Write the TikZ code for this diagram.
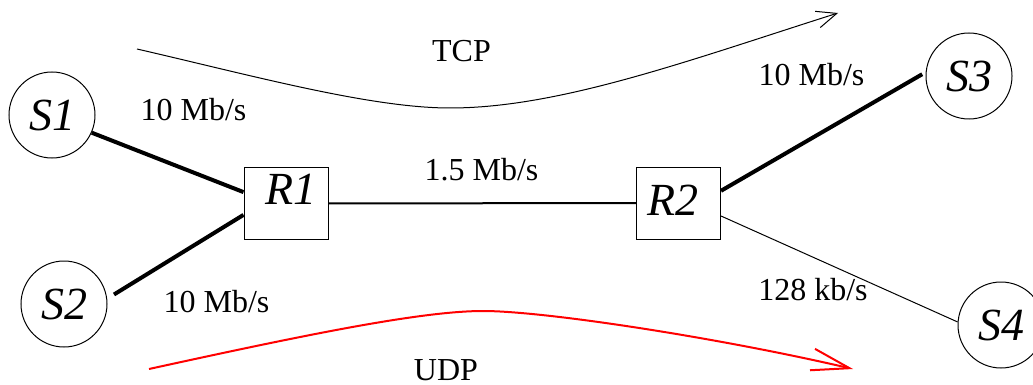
\documentclass[tikz,border=0pt]{standalone}
\usepackage{fontspec}
\setmainfont{Liberation Serif}
\usetikzlibrary{arrows.meta}
\begin{document}
\begin{tikzpicture}[x=1pt,y=-1pt,
  host/.style={circle,draw,line width=1pt,minimum size=86pt,inner sep=0pt,
    font=\fontsize{46}{50}\selectfont\itshape},
  router/.style={rectangle,draw,line width=1pt,minimum width=84pt,
    minimum height=72pt,inner sep=0pt},
  rlabel/.style={anchor=base,inner sep=0pt,font=\fontsize{46}{50}\selectfont\itshape},
  rate/.style={anchor=base,inner sep=0pt,font=\fontsize{32}{36}\selectfont},
  fast/.style={line width=4pt},
  core/.style={line width=2pt},
  slow/.style={line width=1pt},
  tcpflow/.style={line width=1pt,-{Straight Barb[length=20pt,width=17pt]}},
  udpflow/.style={red,line width=2pt,-{Straight Barb[length=38pt,width=22pt]}},
]
\useasboundingbox (0,0) rectangle (1033,385);

% hosts
\node[host] (S1) at (52,115)   {S1};
\node[host] (S2) at (64,304)   {S2};
\node[host] (S3) at (969,76)   {S3};
\node[host] (S4) at (1001,325) {S4};

% routers
\node[router] (R1) at (286,203.5) {};
\node[router] (R2) at (678.5,203) {};
\node[rlabel] (R1t) at (291,204) {R1};
\node[rlabel] (R2t) at (673,215) {R2};

% links
\draw[fast] (S1.-24) -- (R1.165);
\draw[fast,shorten <=8pt] (S2.7) -- (R1.195);
\draw[core] (R1.east) -- (R2.west);
\draw[fast,shorten >=4pt] (R2.16) -- (S3.175);
\draw[slow] (R2.-17) -- (S4.176);

% link rates
\node[rate] (r1) at (193.5,121) {10 Mb/s};
\node[rate] (r2) at (216.5,312) {10 Mb/s};
\node[rate] (r3) at (481.5,180) {1.5 Mb/s};
\node[rate] (r4) at (811.5,86)  {10 Mb/s};
\node[rate] (r5) at (813,300)   {128 kb/s};

% traffic flows
\coordinate (tcpA) at (137,49);
\coordinate (tcpM) at (450,108);
\coordinate (tcpB) at (838,13);
\draw[tcpflow] (tcpA) .. controls (250,75) and (370,108) .. (tcpM)
  .. controls (560,108) and (690,60) .. (tcpB);
\node[rate] (tcp) at (461.5,62) {TCP};

\coordinate (udpA) at (149,369);
\coordinate (udpM) at (483,311);
\coordinate (udpB) at (853,369);
\draw[udpflow] (udpA) .. controls (300,336) and (420,311) .. (udpM)
  .. controls (545,311) and (720,338) .. (udpB);
\node[rate] (udp) at (446,380) {UDP};
\end{tikzpicture}
\end{document}
